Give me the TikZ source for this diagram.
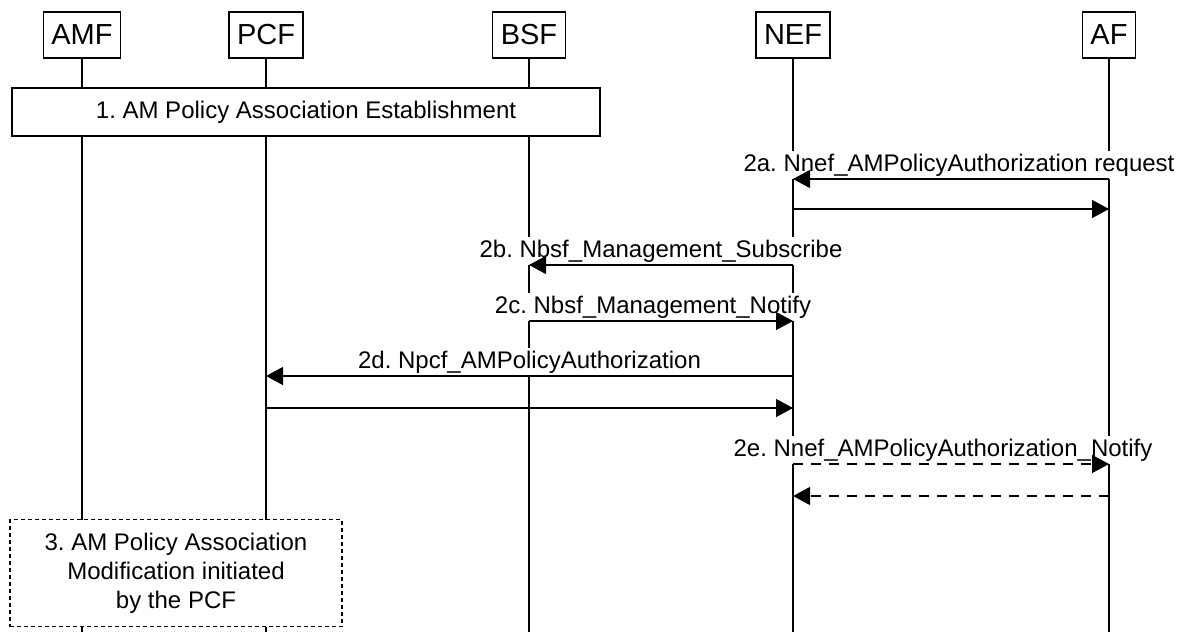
\documentclass[tikz,border=0pt]{standalone}
\usepackage{fontspec}
\setmainfont{Liberation Sans}
\usetikzlibrary{arrows.meta,calc}
\tikzset{
  hdr/.style={draw, line width=1.2pt, minimum height=46pt, inner xsep=8pt, inner ysep=0pt, font=\fontsize{29}{34}\selectfont, fill=white},
  bigbox/.style={draw, line width=1.2pt, fill=white, inner sep=0pt, font=\fontsize{24}{29}\selectfont, align=center},
  life/.style={line width=1.2pt},
  msg/.style={line width=1.2pt, -{Triangle[length=17pt,width=18pt]}},
  dmsg/.style={msg, dash pattern=on 10pt off 8pt},
  lbl/.style={fill=white, inner xsep=1pt, inner ysep=3pt, anchor=base, yshift=8pt, font=\fontsize{24}{29}\selectfont}
}
\begin{document}
\frenchspacing
\begin{tikzpicture}[x=1pt,y=-1pt]
\useasboundingbox (0,0) rectangle (1186,632);
% participants
\node[hdr] (amf) at (82,35) {AMF};
\node[hdr] (pcf) at (266,35) {PCF};
\node[hdr] (bsf) at (529,35) {BSF};
\node[hdr] (nef) at (793,35) {NEF};
\node[hdr] (af)  at (1109,35) {AF};
\coordinate (bot) at (0,632);
% lifelines
\foreach \p in {amf,pcf,bsf,nef,af}{
  \draw[life] (\p.south) -- (\p |- bot);
}
% boxes
\node[bigbox, minimum width=588pt, minimum height=48pt] (est) at (306,112) {1. AM Policy Association Establishment};
\node[bigbox, dash pattern=on 4pt off 3pt, minimum width=332pt, minimum height=107pt] (mod) at (176,573) {3. AM Policy Association\\Modification initiated\\by the PCF};
% message rows
\coordinate (m2a) at (0,179);
\coordinate (r2a) at (0,209);
\coordinate (m2b) at (0,265);
\coordinate (m2c) at (0,321);
\coordinate (m2d) at (0,376);
\coordinate (r2d) at (0,408);
\coordinate (m2e) at (0,464);
\coordinate (r2e) at (0,496);
% labels
\node[lbl, xshift=8pt] (l2a) at ($(nef |- m2a)!0.5!(af |- m2a)$) {2a. Nnef\_AMPolicyAuthorization request};
\node[lbl] (l2b) at ($(bsf |- m2b)!0.5!(nef |- m2b)$) {2b. Nbsf\_Management\_Subscribe};
\node[lbl, xshift=-8pt] (l2c) at ($(bsf |- m2c)!0.5!(nef |- m2c)$) {2c. Nbsf\_Management\_Notify};
\node[lbl] (l2d) at ($(pcf |- m2d)!0.5!(nef |- m2d)$) {2d. Npcf\_AMPolicyAuthorization};
\node[lbl, xshift=-8pt] (l2e) at ($(nef |- m2e)!0.5!(af |- m2e)$) {2e. Nnef\_AMPolicyAuthorization\_Notify};
% arrows
\draw[msg] (af |- m2a) -- (nef |- m2a);
\draw[msg] (nef |- r2a) -- (af |- r2a);
\draw[msg] (nef |- m2b) -- (bsf |- m2b);
\draw[msg] (bsf |- m2c) -- (nef |- m2c);
\draw[msg] (nef |- m2d) -- (pcf |- m2d);
\draw[msg] (pcf |- r2d) -- (nef |- r2d);
\draw[dmsg] (nef |- m2e) -- (af |- m2e);
\draw[dmsg] (af |- r2e) -- (nef |- r2e);
\end{tikzpicture}
\end{document}
